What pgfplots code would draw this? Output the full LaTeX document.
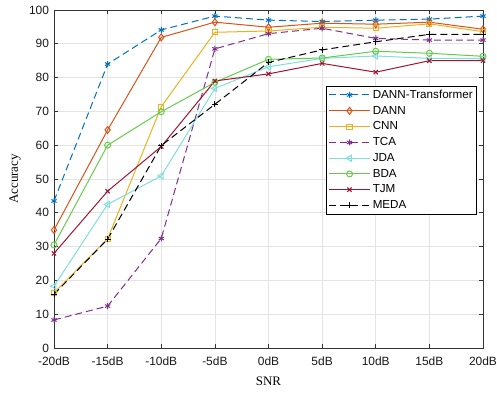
\documentclass[border=0pt]{standalone}
\usepackage{pgfplots}
\pgfplotsset{compat=1.18}
\usepackage{fontspec}
\setmainfont{Liberation Sans}
\newfontfamily\serif{Liberation Serif}
\definecolor{cA}{rgb}{0,0.447,0.741}
\definecolor{cB}{rgb}{0.85,0.325,0.098}
\definecolor{cC}{rgb}{0.929,0.694,0.125}
\definecolor{cD}{rgb}{0.494,0.184,0.556}
\definecolor{cE}{rgb}{0.50,0.87,0.86}
\definecolor{cF}{rgb}{0.40,0.80,0.30}
\definecolor{cG}{rgb}{0.635,0.078,0.184}
\begin{document}
\begin{tikzpicture}
\begin{axis}[
 width=429bp, height=338bp, scale only axis,
 xmin=-20, xmax=20, ymin=0, ymax=100,
 xtick={-20,-15,...,20},
 xticklabels={-20dB,-15dB,-10dB,-5dB,0dB,5dB,10dB,15dB,20dB},
 ytick={0,10,...,100},
 grid=major, major grid style={black!11, line width=0.7bp},
 axis line style={draw=black!80, line width=0.9bp},
 tick style={black!80, line width=0.7bp}, tick align=inside,
 major tick length=4bp,
 ticklabel style={font=\fontsize{12}{14}\selectfont, text=black!90},
 xticklabel style={yshift=-5.5bp},
 yticklabel style={xshift=-1.5bp},
 /pgf/number format/assume math mode=true,
 xlabel={SNR}, ylabel={Accuracy},
 label style={font=\fontsize{13}{15}\selectfont\serif},
 xlabel style={at={(axis description cs:0.5,-0.098)}, anchor=center},
 ylabel style={at={(axis description cs:-0.091,0.5)}, anchor=center},
 legend style={at={(0.986,0.776)}, anchor=north east, draw=black, line width=0.6bp,
   font=\fontsize{11.7}{13}\selectfont, row sep=2.2bp, inner sep=2bp},
 legend cell align=left,
 legend image code/.code={\draw[mark repeat=2,mark phase=2] plot coordinates {(0cm,0cm) (0.72cm,0cm) (1.45cm,0cm)};},
 every axis plot/.append style={line width=1bp, mark size=3bp},
 dsh/.style={dash pattern=on 7bp off 4bp},
]
\addplot[cA, dsh, mark=asterisk, mark options={solid}] coordinates {(-20,43.5) (-15,84.0) (-10,94.1) (-5,98.2) (0,97.0) (5,96.6) (10,97.0) (15,97.3) (20,98.2)};
\addlegendentry{DANN-Transformer}
\addplot[cB, mark=diamond, mark size=3.5bp] coordinates {(-20,34.9) (-15,64.5) (-10,91.9) (-5,96.4) (0,94.9) (5,96.1) (10,95.8) (15,96.4) (20,94.3)};
\addlegendentry{DANN}
\addplot[cC, mark=square, mark size=2.6bp] coordinates {(-20,16.3) (-15,32.3) (-10,71.4) (-5,93.4) (0,93.8) (5,94.9) (10,94.6) (15,95.9) (20,93.6)};
\addlegendentry{CNN}
\addplot[cD, dsh, mark=asterisk, mark options={solid}] coordinates {(-20,8.3) (-15,12.4) (-10,32.4) (-5,88.5) (0,93.0) (5,94.6) (10,91.6) (15,91.1) (20,91.1)};
\addlegendentry{TCA}
\addplot[cE, mark=triangle, mark options={rotate=90}, mark size=3.5bp] coordinates {(-20,18.3) (-15,42.5) (-10,50.9) (-5,76.8) (0,83.2) (5,85.7) (10,86.4) (15,85.7) (20,85.6)};
\addlegendentry{JDA}
\addplot[cF, mark=o] coordinates {(-20,30.5) (-15,60.0) (-10,69.9) (-5,78.6) (0,85.4) (5,85.8) (10,87.8) (15,87.2) (20,86.3)};
\addlegendentry{BDA}
\addplot[cG, mark=x] coordinates {(-20,28.0) (-15,46.4) (-10,59.6) (-5,79.0) (0,81.1) (5,84.2) (10,81.6) (15,85.0) (20,85.0)};
\addlegendentry{TJM}
\addplot[black, dsh, mark=+, mark options={solid}] coordinates {(-20,15.9) (-15,32.2) (-10,59.9) (-5,72.1) (0,84.5) (5,88.2) (10,90.6) (15,92.8) (20,92.8)};
\addlegendentry{MEDA}
\end{axis}
\pgfresetboundingbox
\path ([shift={(-54bp,-44bp)}]current axis.south west) rectangle ([shift={(14bp,10bp)}]current axis.north east);
\end{tikzpicture}
\end{document}
